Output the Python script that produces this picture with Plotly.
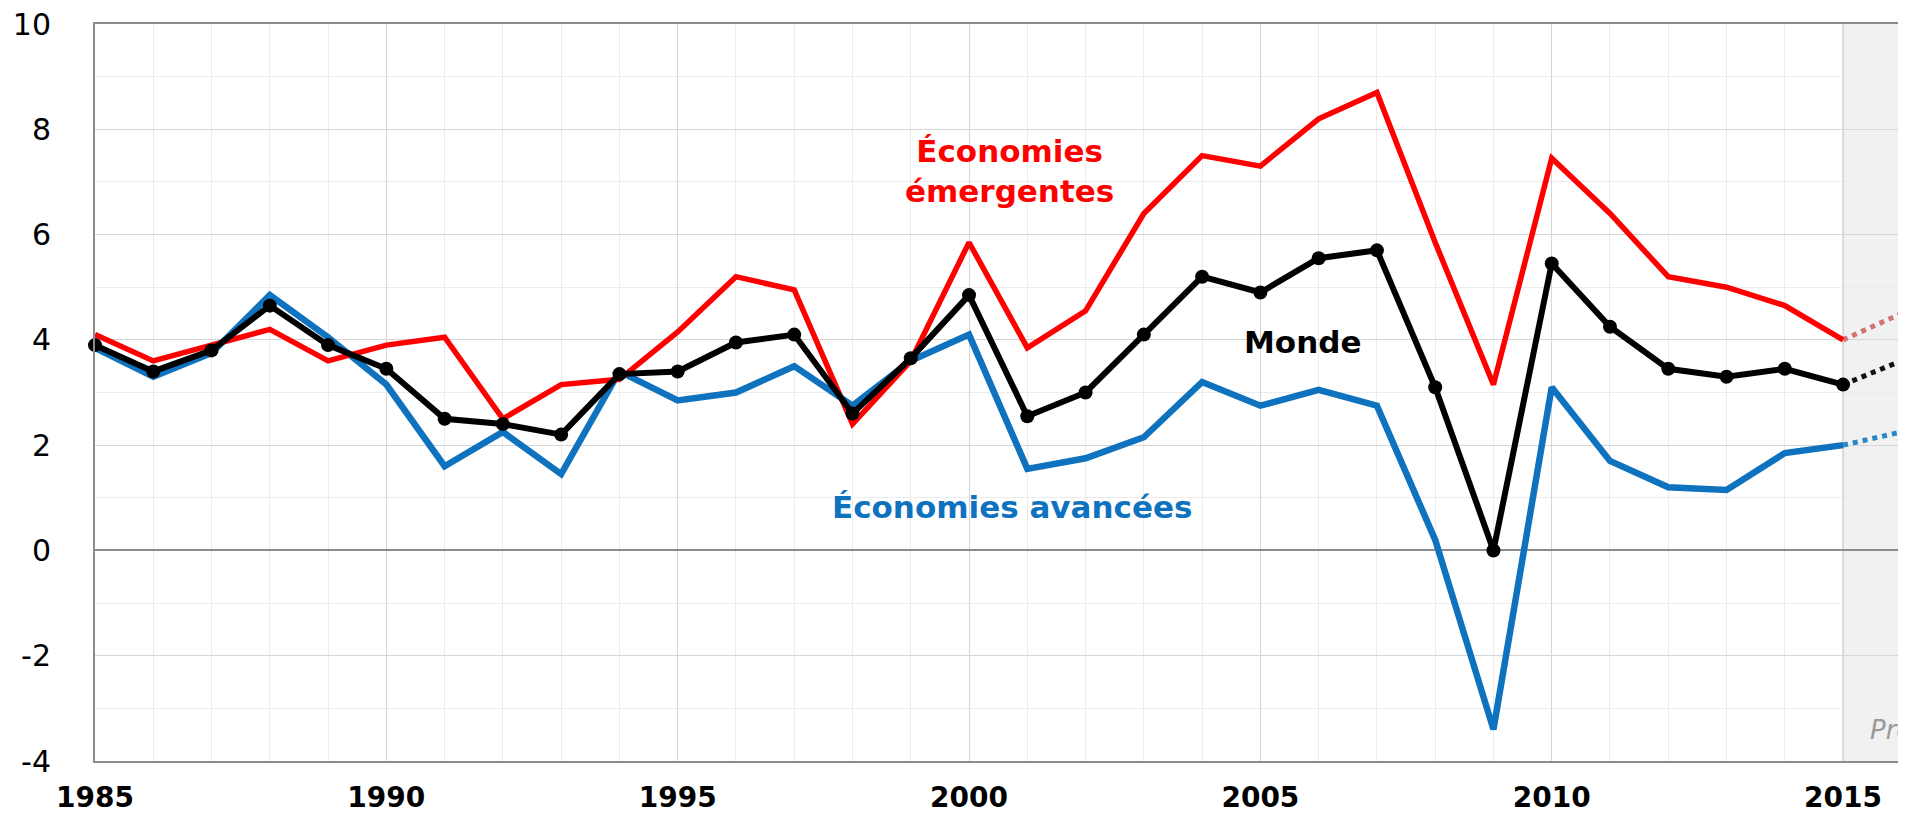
import plotly.graph_objects as go

# Croissance du PIB réel (%), 1985-2015, puis projections
years = list(range(1985, 2016))
monde = [3.9, 3.4, 3.8, 4.65, 3.9, 3.45, 2.5, 2.4, 2.2, 3.35, 3.4, 3.95, 4.1, 2.6, 3.65,
         4.85, 2.55, 3.0, 4.1, 5.2, 4.9, 5.55, 5.7, 3.1, 0.0, 5.45, 4.25, 3.45, 3.3, 3.45, 3.15]
emergentes = [4.1, 3.6, 3.9, 4.2, 3.6, 3.9, 4.05, 2.5, 3.15, 3.25, 4.15, 5.2, 4.95, 2.4, 3.6,
              5.85, 3.85, 4.55, 6.4, 7.5, 7.3, 8.2, 8.7, 5.85, 3.15, 7.45, 6.4, 5.2, 5.0, 4.65, 4.0]
avancees = [3.85, 3.3, 3.75, 4.85, 4.05, 3.15, 1.6, 2.25, 1.45, 3.4, 2.85, 3.0, 3.5, 2.75, 3.6,
            4.1, 1.55, 1.75, 2.15, 3.2, 2.75, 3.05, 2.75, 0.2, -3.4, 3.1, 1.7, 1.2, 1.15, 1.85, 2.0]

proj_years = [2015, 2016]
monde_proj = [3.15, 3.6]
emergentes_proj = [4.0, 4.5]
avancees_proj = [2.0, 2.25]

y_ticks = [-4, -2, 0, 2, 4, 6, 8, 10]
y_labels = ["-4", "-2", "0", "2", "4", "6", "8", "10"]

RED = "#FF0000"
BLUE = "#0E72BF"
BLACK = "#000000"
FONT = "DejaVu Sans"

fig = go.Figure()

# projections (pointillés)
fig.add_trace(go.Scatter(x=proj_years, y=emergentes_proj, mode="lines",
                         line=dict(color="#cf7474", width=5, dash="dot")))
fig.add_trace(go.Scatter(x=proj_years, y=monde_proj, mode="lines",
                         line=dict(color="#111111", width=5, dash="dot")))
fig.add_trace(go.Scatter(x=proj_years, y=avancees_proj, mode="lines",
                         line=dict(color="#2a86c9", width=5, dash="dot")))

# séries historiques
fig.add_trace(go.Scatter(x=years, y=avancees, mode="lines",
                         line=dict(color=BLUE, width=6.5), cliponaxis=False))
fig.add_trace(go.Scatter(x=years, y=emergentes, mode="lines",
                         line=dict(color=RED, width=5.5), cliponaxis=False))
fig.add_trace(go.Scatter(x=years, y=monde, mode="lines+markers",
                         line=dict(color=BLACK, width=6),
                         marker=dict(color=BLACK, size=14), cliponaxis=False))

# zone de prévisions
fig.add_shape(type="rect", xref="x", yref="paper", x0=2015, x1=2017, y0=0, y1=1,
              fillcolor="#f1f1f1", line=dict(width=0), layer="below")
fig.add_shape(type="line", xref="x", yref="paper", x0=2015, x1=2015, y0=0, y1=1,
              line=dict(color="#d0d0d0", width=1.5), layer="below")

labels = [
    ("Économies<br>émergentes", 2000.7, 7.2, RED),
    ("Monde", 2005.73, 3.96, BLACK),
    ("Économies avancées", 2000.74, 0.82, BLUE),
]
for text, x, y, color in labels:
    fig.add_annotation(x=x, y=y, xref="x", yref="y", text=text, showarrow=False,
                       font=dict(family=FONT, size=31, color=color, weight="bold"),
                       align="center")

fig.add_annotation(x=2015.43, y=-3.42, xref="x", yref="y", text="Prévisions",
                   showarrow=False, xanchor="left",
                   font=dict(family=FONT, size=26, color="#9a9a9a", style="italic"))

# the page body has an 8px margin, so the figure is sized to fit the window
fig.update_layout(
    width=1898, height=808,
    margin=dict(l=87, r=0, t=16, b=55),
    paper_bgcolor="white", plot_bgcolor="white",
    showlegend=False,
    font=dict(family=FONT, color="black"),
)
fig.update_xaxes(
    range=[1985, 2016.08], tickmode="linear", tick0=1985, dtick=5,
    showgrid=True, gridcolor="#d6d6d6", gridwidth=1,
    minor=dict(tick0=1985, dtick=1, showgrid=True, gridcolor="#ececec", gridwidth=1),
    showline=True, linecolor="#8c8c8c", linewidth=2, mirror=True,
    ticks="", ticklabelstandoff=10, automargin=False, ticklabeloverflow="allow",
    tickfont=dict(family=FONT, size=28, color="black", weight="bold"),
    zeroline=False,
)
fig.update_yaxes(
    range=[-4, 10], tickmode="array", tickvals=y_ticks, ticktext=y_labels,
    showgrid=True, gridcolor="#d6d6d6", gridwidth=1,
    minor=dict(dtick=1, showgrid=True, gridcolor="#ececec", gridwidth=1),
    showline=True, linecolor="#8c8c8c", linewidth=2,
    zeroline=True, zerolinecolor="#8c8c8c", zerolinewidth=1.5,
    ticks="", ticklabelstandoff=36, automargin=False, ticklabeloverflow="allow",
    tickfont=dict(family=FONT, size=30, color="black"),
)

fig.write_html("out.html")
